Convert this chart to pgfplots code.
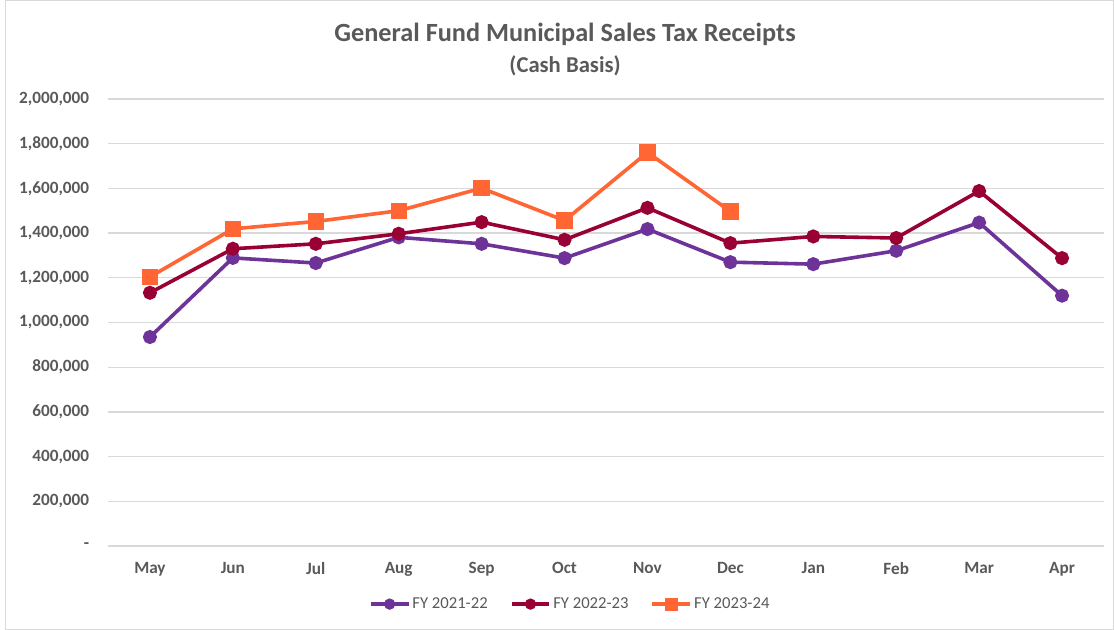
\documentclass[border=0pt]{standalone}
\usepackage{fontspec}
\setmainfont{Carlito}
\usepackage{pgfplots}
\pgfplotsset{compat=1.18}
\definecolor{txtgray}{HTML}{595959}
\definecolor{gridgray}{HTML}{D9D9D9}
\definecolor{cpurple}{HTML}{6E3399}
\definecolor{cred}{HTML}{990033}
\definecolor{corange}{HTML}{FF6633}
\begin{document}
\begin{tikzpicture}
\useasboundingbox (-81.375pt,-63pt) rectangle (754.125pt,409.5pt);
\draw[gridgray, line width=0.75pt] (-77.6pt,-62.6pt) rectangle (753.7pt,409.1pt);
\begin{axis}[
  at={(0,0)}, anchor=south west,
  scale only axis, width=746.25pt, height=335.25pt,
  xmin=-0.5, xmax=11.5, ymin=0, ymax=2000000,
  scaled y ticks=false,
  xtick={0,...,11},
  xticklabels={May,Jun,Jul,Aug,Sep,Oct,Nov,Dec,Jan,Feb,Mar,Apr},
  ytick={0,200000,400000,600000,800000,1000000,1200000,1400000,1600000,1800000,2000000},
  yticklabels={{-},{200,000},{400,000},{600,000},{800,000},{1,000,000},{1,200,000},{1,400,000},{1,600,000},{1,800,000},{2,000,000}},
  axis line style={draw=none},
  tick style={draw=none},
  ymajorgrids, grid style={gridgray, line width=1pt},
  ticklabel style={font=\fontsize{12.9}{14}\selectfont\bfseries, text=txtgray},
  yticklabel style={xshift=-11pt},
  xticklabel style={yshift=-9pt},
  /pgf/number format/assume math mode=true,
  clip=false,
  legend columns=3,
  legend style={at={(0.464,-0.13)}, anchor=center, draw=none, fill=none,
    font=\fontsize{12.5}{14}\selectfont, text=txtgray,
    nodes={inner xsep=1.5pt},
    /tikz/every even column/.append style={column sep=15pt}},
  legend image code/.code={
    \draw[#1, mark repeat=2, mark phase=2, mark options={scale=0.72}] plot coordinates {(0cm,0cm) (0.5cm,0cm) (1.0cm,0cm)};},
]
\addplot[cpurple, line width=2.7pt, mark=*, mark size=3.9pt, mark options={solid}] coordinates {
 (0,935000) (1,1289000) (2,1266000) (3,1381000) (4,1352000) (5,1288000)
 (6,1418000) (7,1270000) (8,1261000) (9,1321000) (10,1447000) (11,1120000)};
\addlegendentry{FY 2021-22}
\addplot[cred, line width=2.7pt, mark=*, mark size=3.9pt, mark options={solid}] coordinates {
 (0,1133000) (1,1330000) (2,1352000) (3,1397000) (4,1449000) (5,1370000)
 (6,1513000) (7,1355000) (8,1385000) (9,1378000) (10,1588000) (11,1288000)};
\addlegendentry{FY 2022-23}
\addplot[corange, line width=2.7pt, mark=square*, mark size=4.8pt, mark options={solid}] coordinates {
 (0,1204000) (1,1419000) (2,1452000) (3,1500000) (4,1601000) (5,1456000)
 (6,1761000) (7,1497000)};
\addlegendentry{FY 2023-24}
\end{axis}
\node[text=txtgray, font=\fontsize{19.7}{22}\selectfont\bfseries] at (342.4pt,383.5pt) {General Fund Municipal Sales Tax Receipts};
\node[text=txtgray, font=\fontsize{17}{19}\selectfont\bfseries] at (342.4pt,360.5pt) {(Cash Basis)};
\end{tikzpicture}
\end{document}
